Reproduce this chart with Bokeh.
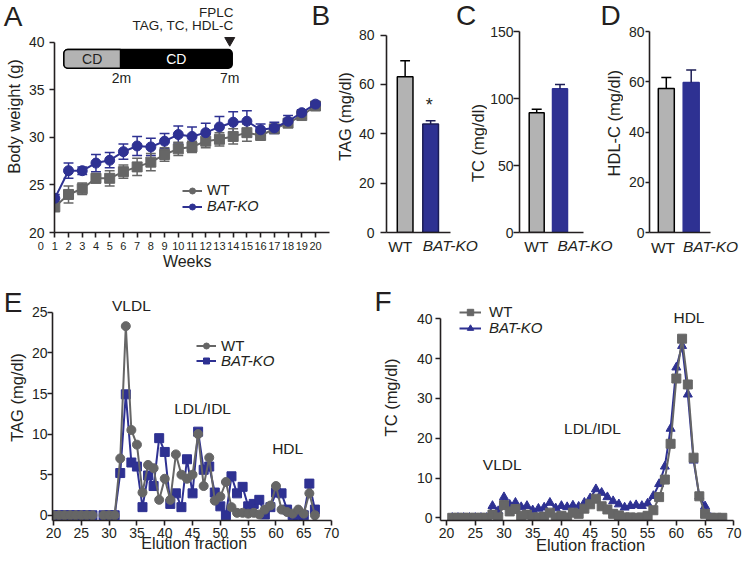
import math
from bokeh.plotting import figure
from bokeh.models import Range1d, FixedTicker, Label, Legend, LegendItem, LinearAxis
from bokeh.layouts import row, column
from bokeh.embed import file_html
from bokeh.resources import INLINE

NaN = float("nan")
NBSP = "\u00a0"

# ---------------- Panel A: body weight ----------------
weeks = list(range(1, 21))
wt_weight = [22.7, 24.0, 24.6, 25.7, 25.7, 26.4, 26.9, 27.4, 28.2, 28.8,
             29.0, 29.6, 29.8, 30.1, 30.5, 30.2, 30.9, 31.5, 32.3, 33.3]
wt_weight_sem = [0.5, 0.9, 0.6, 0.5, 0.8, 0.7, 0.9, 0.9, 0.7, 0.7,
                 0.6, 0.7, 0.7, 0.8, 0.9, 0.4, 0.4, 0.4, 0.3, 0.2]
ko_weight = [23.6, 26.5, 26.5, 27.3, 27.6, 28.5, 29.1, 29.0, 29.6, 30.3,
             30.1, 30.5, 31.1, 31.6, 31.7, 30.8, 31.0, 31.7, 32.6, 33.5]
ko_weight_sem = [0.4, 0.8, 0.4, 0.9, 0.8, 0.8, 1.0, 0.9, 0.8, 0.9,
                 1.0, 1.0, 1.1, 1.1, 1.1, 0.6, 0.6, 0.6, 0.3, 0.2]
week_ticks = list(range(1, 21))
weight_ticks = [20, 25, 30, 35, 40]

# diet timeline drawn inside panel A (positions on the weeks axis)
timeline_x = [1.66, 5.79, 13.93]
timeline_y = [37.28, 39.24]
timeline_diets = ["CD", "CD"]
timeline_months = ["2m", "7m"]

# ---------------- Panels B-D: plasma lipids ----------------
groups = ["WT", "BAT-KO"]
group_x = [1, 2]
tag_mean = [63.1, 43.9]
tag_sem = [6.5, 1.4]
tc_mean = [89.5, 107.4]
tc_sem = [2.5, 3.2]
hdl_mean = [57.3, 59.7]
hdl_sem = [4.4, 5.0]

# ---------------- Panel E: FPLC TAG ----------------
tag_fraction = list(range(20, 68))
wt_tag_fplc = [0, 0, 0, 0, 0, 0, 0, 0, NaN, 0, 0, 0,
               7.0, 23.3, 10.5, 8.7, 2.8, 6.2, 5.8, 1.9, 4.5, 1.9, 7.5, 5.0,
               4.5, 5.0, 10.0, 3.6, 7.1, 1.8, 2.3, 4.1, 1.0, 0.3, 0.3, 0.2,
               0.3, 0.1, 0.7, 1.2, 3.6, 0.7, 0.4, 0.2, 0.7, 0.2, 2.7, 0.0]
ko_tag_fplc = [0, 0, 0, 0, 0, 0, 0, 0, NaN, 0, 0, 0,
               5.2, 14.9, 6.5, 6.0, 1.0, 4.9, 3.6, 9.5, 7.8, 1.4, 2.7, 1.0,
               6.9, 2.7, 10.3, 5.6, 6.0, 2.8, 1.1, 0.0, 4.8, 2.7, 3.5, 1.1,
               1.4, 1.9, 0.1, 1.0, 2.8, 2.7, 0.7, 0.0, 0.0, 0.0, 3.9, 0.7]
fraction_ticks = [20, 25, 30, 35, 40, 45, 50, 55, 60, 65, 70]
tag_fplc_ticks = [0, 5, 10, 15, 20, 25]
peak_names = ["VLDL", "LDL/IDL", "HDL"]
tag_peak_x = [34.0, 46.8, 62.1]
tag_peak_y = [25.9, 13.1, 8.2]

# ---------------- Panel F: FPLC TC ----------------
tc_fraction = list(range(21, 69))
wt_tc_fplc = [0, 0, 0, 0, 0, 0, 0,
              0.8, 0.1, 3.2, 1.6, 2.2, 0.5, 0.8, 0.1, 0.1, 0.3, 1.3, 0.1, 0.5,
              0.1, 1.3, 1.0, 2.3, 3.4, 4.8, 2.9, 2.1, 1.0, 0.6, 0.1, 0.1, 0.0,
              0.1, 0.5, 1.9, 5.2, 9.6, 18.6, 35.0, 45.0, 33.5, 15.1, 5.4, 1.0,
              0.0, 0.0, 0.0]
ko_tc_fplc = [0, 0, 0, 0, 0, 0, 0,
              3.0, 1.7, 5.2, 3.3, 3.8, 2.7, 3.0, 1.9, 2.3, 2.6, 3.8, 2.4, 3.0,
              2.7, 3.1, 2.8, 3.8, 4.9, 7.2, 6.3, 5.2, 4.2, 3.4, 2.6, 3.0, 3.2,
              3.0, 3.6, 5.5, 8.5, 12.9, 22.4, 37.8, 43.2, 31.0, 14.4, 5.4, 2.9,
              0.0, NaN, NaN]
tc_fplc_ticks = [0, 10, 20, 30, 40, 50]
tc_fplc_tick_labels = {50: "40"}   # the top tick is printed "40" in the original
tc_peak_x = [29.7, 45.4, 62.2]
tc_peak_y = [13.3, 22.5, 50.3]

# ---------------- styling ----------------
FONT = "Liberation Sans"
INK = "#231f20"
GRAY = "#666666"
BLUE = "#2e3192"
BLUE_DARK = "#1b1c55"
BAR_GRAY = "#b3b3b3"
TOP_H = 274
BOT_H = 291


def lin(v0, p0, v1, p1):
    k = (v1 - v0) / (p1 - p0)
    return lambda px: v0 + (px - p0) * k


def make_panel(width, height, fl, fr, ft, fb, xmap, ymap):
    p = figure(width=width, height=height,
               x_range=Range1d(xmap(fl), xmap(fr)),
               y_range=Range1d(ymap(fb), ymap(ft)),
               min_border_left=fl, min_border_right=width - fr,
               min_border_top=ft, min_border_bottom=height - fb,
               output_backend="svg", toolbar_location=None)
    p.outline_line_color = None
    p.xgrid.visible = False
    p.ygrid.visible = False
    for ax in (p.xaxis[0], p.yaxis[0]):
        ax.axis_line_width = 1.6
        ax.axis_line_color = INK
        ax.major_tick_line_width = 1.6
        ax.major_tick_line_color = INK
        ax.major_tick_in = 0
        ax.major_tick_out = 5
        ax.minor_tick_line_color = None
        ax.minor_tick_out = 0
        ax.major_label_text_font = FONT
        ax.major_label_text_font_size = "14px"
        ax.major_label_text_color = INK
        ax.axis_label_text_font = FONT
        ax.axis_label_text_font_size = "16.5px"
        ax.axis_label_text_font_style = "normal"
        ax.axis_label_text_color = INK
    return p


def text_axis(p, side, ticks, labels, standoff, size, style="normal"):
    """An extra axis that only carries text (no line, no tick marks)."""
    ticks = [round(t, 4) for t in ticks]
    ax = LinearAxis(ticker=FixedTicker(ticks=ticks),
                    major_label_overrides=dict(zip(ticks, labels)),
                    axis_line_color=None, major_tick_line_color=None,
                    minor_tick_line_color=None, major_tick_out=0, major_tick_in=0,
                    minor_tick_out=0, minor_tick_in=0,
                    major_label_standoff=standoff, major_label_text_font=FONT,
                    major_label_text_font_size=size, major_label_text_font_style=style,
                    major_label_text_color=INK)
    p.add_layout(ax, side)
    return ax


def plabel(p, xmap, ymap, px, py, text, size="15px", align="center",
           angle=0.0, color=INK, style="normal"):
    p.add_layout(Label(x=xmap(px), y=ymap(py), text=text, text_font=FONT,
                       text_font_size=size, text_align=align,
                       text_baseline="middle", angle=angle,
                       text_color=color, text_font_style=style))


def dlabel(p, x, y, text, size="15.5px", align="center", color=INK):
    p.add_layout(Label(x=x, y=y, text=text, text_font=FONT, text_font_size=size,
                       text_align=align, text_baseline="middle", text_color=color))


def add_legend(p, items, x, y, italic, glyph_w=20, standoff=5, h=15, size="15px"):
    lg = Legend(items=items, location=(x, y), orientation="vertical",
                padding=0, margin=0, spacing=0, glyph_width=glyph_w,
                glyph_height=h, label_height=h, label_standoff=standoff,
                border_line_color=None, background_fill_alpha=0,
                label_text_font=FONT, label_text_font_size=size,
                label_text_font_style="italic" if italic else "normal",
                label_text_color=INK)
    p.add_layout(lg)


def errorbars(p, x, mean, sem, color, cap, both=True, width=1.5):
    hi = [m + s for m, s in zip(mean, sem)]
    lo = [m - s for m, s in zip(mean, sem)] if both else list(mean)
    xl = [v - cap for v in x]
    xr = [v + cap for v in x]
    p.segment(x0=x, y0=lo, x1=x, y1=hi, line_color=color, line_width=width)
    p.segment(x0=xl, y0=hi, x1=xr, y1=hi, line_color=color, line_width=width)
    if both:
        p.segment(x0=xl, y0=lo, x1=xr, y1=lo, line_color=color, line_width=width)


# ================= Panel A =================
axA = lin(1, 54.3, 20, 315.0)
ayA = lin(40, 42, 20, 233)
pA = make_panel(332, TOP_H, 54, 332, 0, 233, axA, ayA)
# week "0" sits left of the y axis: it is carried by a tick at the frame edge whose
# label is padded on the right with no-break spaces
zero_pos = round(pA.x_range.start + 0.001, 4)
pA.xaxis.ticker = FixedTicker(ticks=[zero_pos] + week_ticks)
pA.xaxis.major_label_overrides = {zero_pos: "0" + NBSP * 9}
pA.xaxis.bounds = (pA.x_range.start, axA(329))
pA.xaxis.major_label_text_font_size = "11px"
pA.xaxis.major_label_standoff = 2
text_axis(pA, "below", [10.65], ["Weeks"], -2, "16px")
pA.yaxis.ticker = FixedTicker(ticks=weight_ticks)
pA.yaxis.bounds = (20, 40)
pA.yaxis.major_label_standoff = 5
pA.yaxis.axis_label = "Body weight (g)"
pA.yaxis.axis_label_standoff = 3
text_axis(pA, "left", [ayA(15)], ["A"], -21, "28px")

errorbars(pA, weeks, ko_weight, ko_weight_sem, BLUE, 0.36)
errorbars(pA, weeks, wt_weight, wt_weight_sem, GRAY, 0.36)
wt_line = pA.line(weeks, wt_weight, line_color=GRAY, line_width=2)
pA.scatter(weeks, wt_weight, marker="square", size=10, color=GRAY)
ko_line = pA.line(weeks, ko_weight, line_color=BLUE, line_width=2)
ko_pts = pA.scatter(weeks, ko_weight, marker="circle", size=10, color=BLUE)
wt_key = pA.scatter(x=[NaN], y=[NaN], marker="circle", size=8, color=GRAY)
add_legend(pA, [LegendItem(label="WT", renderers=[wt_line, wt_key])], 128, 34, False,
           size="14.5px")
add_legend(pA, [LegendItem(label="BAT-KO", renderers=[ko_line, ko_pts])], 128, 18, True,
           size="14.5px")

# diet timeline
pA.quad(left=timeline_x[0], right=timeline_x[2], bottom=timeline_y[0], top=timeline_y[1],
        fill_color="black", line_color="black", line_width=1.5, border_radius=4)
pA.quad(left=timeline_x[0], right=timeline_x[1], bottom=timeline_y[0], top=timeline_y[1],
        fill_color=BAR_GRAY, line_color="black", line_width=1.5, border_radius=(4, 0, 0, 4))
ymid = (timeline_y[0] + timeline_y[1]) / 2
dlabel(pA, (timeline_x[0] + timeline_x[1]) / 2, ymid, timeline_diets[0], size="14px")
dlabel(pA, (timeline_x[1] + timeline_x[2]) / 2, ymid, timeline_diets[1], size="14px", color="white")
dlabel(pA, timeline_x[1] + 0.07, 36.2, timeline_months[0], size="14px")
dlabel(pA, timeline_x[2] - 0.18, 36.2, timeline_months[1], size="14px")
pA.scatter(x=[timeline_x[2] - 0.18], y=[40.2], marker="inverted_triangle", size=10, color=INK)
dlabel(pA, timeline_x[2] + 0.1, 43.1, "FPLC", size="13.5px", align="right")
dlabel(pA, timeline_x[2] + 0.1, 41.8, "TAG, TC, HDL-C", size="13.5px", align="right")
plabel(pA, axA, ayA, 311, 15, "B", size="28px", align="left")


# ================= Panels B-D =================
def bar_panel(width, fl, fb, xmap, ymap, means, sems, yticks, ymax, bar_px, axis_end_px,
              tick_out, standoff, label_px, label_standoff, ko_line):
    p = make_panel(width, TOP_H, fl, width, 0, fb, xmap, ymap)
    xa = p.xaxis[0]
    wt_pos = round(xmap(label_px[0]), 4)
    xa.ticker = FixedTicker(ticks=[wt_pos])
    xa.major_label_overrides = {wt_pos: groups[0]}
    xa.major_tick_line_color = None
    xa.major_tick_out = 0
    xa.major_label_standoff = label_standoff
    xa.major_label_text_font_size = "15.5px"
    xa.bounds = (p.x_range.start, xmap(axis_end_px))
    # the BAT-KO label axis sits right below the WT label axis; its negative
    # standoff pulls it back up onto the same text line
    text_axis(p, "below", [xmap(label_px[1])], [groups[1]], -21, "15.5px", style="italic")
    p.yaxis.ticker = FixedTicker(ticks=yticks)
    p.yaxis.bounds = (0, ymax)
    p.yaxis.major_tick_out = tick_out
    p.yaxis.major_label_standoff = standoff
    unit = xmap(1) - xmap(0)
    p.vbar(x=group_x, top=means, bottom=0, width=bar_px * unit,
           fill_color=[BAR_GRAY, BLUE], line_color=["black", ko_line], line_width=1.5)
    cap = 5 * unit
    errorbars(p, [group_x[0]], [means[0]], [sems[0]], "black", cap, both=False)
    errorbars(p, [group_x[1]], [means[1]], [sems[1]], BLUE_DARK, cap, both=False)
    return p


axB = lin(1, 71, 2, 97)
ayB = lin(80, 34.5, 0, 232)
pB = bar_panel(155, 52, 232, axB, ayB, tag_mean, tag_sem, [0, 20, 40, 60, 80], 80,
               16, 117, 6, 6, (66, 117), 5, BLUE_DARK)
pB.yaxis.axis_label = "TAG (mg/dl)"
pB.yaxis.axis_label_standoff = 2
plabel(pB, axB, ayB, 95.7, 104, "*", size="18px")
plabel(pB, axB, ayB, 145.5, 142.5, "TC (mg/dl)", size="16.5px", angle=math.pi / 2)
plabel(pB, axB, ayB, 123, 15, "C", size="28px", align="left")

axC = lin(1, 49.2, 2, 72.5)
ayC = lin(150, 31.3, 0, 233)
pC = bar_panel(136, 32, 233, axC, ayC, tc_mean, tc_sem, [0, 50, 100, 150], 150,
               15, 96.3, 6, 0, (48.8, 97.5), 5, BLUE)
plabel(pC, axC, ayC, 126, 123.3, "HDL-C (mg/dl)", size="16.5px", angle=math.pi / 2)
plabel(pC, axC, ayC, 113, 15, "D", size="28px", align="left")

axD = lin(1, 42.8, 2, 67.7)
ayD = lin(80, 31, 0, 232)
pD = bar_panel(121, 26, 232, axD, ayD, hdl_mean, hdl_sem, [0, 20, 40, 60, 80], 80,
               16, 87, 4, 1, (39.5, 87), 6, BLUE)

# ================= Panel E =================
axE = lin(20, 52, 70, 331)
ayE = lin(25, 38.3, 0, 243.7)
pE = make_panel(362, BOT_H, 51, 362, 0, 249, axE, ayE)
pE.xaxis.ticker = FixedTicker(ticks=fraction_ticks)
pE.xaxis.bounds = (pE.x_range.start, 70)
pE.xaxis.major_label_standoff = 2
text_axis(pE, "below", [45.3], ["Elution fraction"], -6, "16px")
pE.yaxis.ticker = FixedTicker(ticks=tag_fplc_ticks)
pE.yaxis.bounds = (pE.y_range.start, 25)
pE.yaxis.major_tick_out = 5
pE.yaxis.major_label_standoff = 0
pE.yaxis.axis_label = "TAG (mg/dl)"
pE.yaxis.axis_label_standoff = 3
text_axis(pE, "left", [ayE(28.5)], ["E"], -18, "28px")

e_ko_line = pE.line(tag_fraction, ko_tag_fplc, line_color=BLUE, line_width=2)
e_ko_pts = pE.scatter(tag_fraction, ko_tag_fplc, marker="square", size=9, color=BLUE)
e_wt_line = pE.line(tag_fraction, wt_tag_fplc, line_color=GRAY, line_width=2)
e_wt_pts = pE.scatter(tag_fraction, wt_tag_fplc, marker="circle", size=9, color=GRAY)
add_legend(pE, [LegendItem(label="WT", renderers=[e_wt_line, e_wt_pts])], 144, 166.5, False)
add_legend(pE, [LegendItem(label="BAT-KO", renderers=[e_ko_line, e_ko_pts])], 144, 150.8, True)
for name, x, y in zip(peak_names, tag_peak_x, tag_peak_y):
    dlabel(pE, x, y, name)

# ================= Panel F =================
axF = lin(20, 84, 70, 371.3)
ayF = lin(50, 44.3, 0, 243.3)
pF = make_panel(382, BOT_H, 78, 382, 0, 246, axF, ayF)
pF.xaxis.ticker = FixedTicker(ticks=fraction_ticks)
pF.xaxis.bounds = (pF.x_range.start, 70)
pF.xaxis.major_label_standoff = 2
text_axis(pF, "below", [45.06], ["Elution fraction"], -5, "16.5px")
pF.yaxis.ticker = FixedTicker(ticks=tc_fplc_ticks)
pF.yaxis.major_label_overrides = tc_fplc_tick_labels
pF.yaxis.bounds = (pF.y_range.start, 50)
pF.yaxis.major_label_standoff = 3
pF.yaxis.axis_label = "TC (mg/dl)"
pF.yaxis.axis_label_standoff = 14
text_axis(pF, "left", [ayF(26.85)], ["F"], -13, "28px")

f_ko_line = pF.line(tc_fraction, ko_tc_fplc, line_color=BLUE, line_width=2)
f_ko_pts = pF.scatter(tc_fraction, ko_tc_fplc, marker="triangle", size=9, color=BLUE)
f_wt_line = pF.line(tc_fraction, wt_tc_fplc, line_color=GRAY, line_width=2)
f_wt_pts = pF.scatter(tc_fraction, wt_tc_fplc, marker="square", size=9, color=GRAY)
add_legend(pF, [LegendItem(label="WT", renderers=[f_wt_line, f_wt_pts])], 19, 199.7, False,
           glyph_w=22, standoff=8, h=16)
add_legend(pF, [LegendItem(label="BAT-KO", renderers=[f_ko_line, f_ko_pts])], 19, 183.7, True,
           glyph_w=22, standoff=8, h=16)
for name, x, y in zip(peak_names, tc_peak_x, tc_peak_y):
    dlabel(pF, x, y, name)

layout = column(row(pA, pB, pC, pD, spacing=0), row(pE, pF, spacing=0), spacing=0)
open("out.html", "w").write(file_html(layout, INLINE))
